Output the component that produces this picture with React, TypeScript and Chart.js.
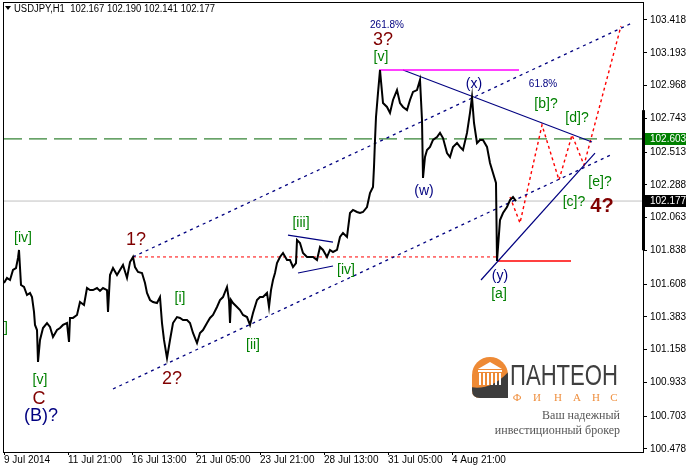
import React, { useEffect, useRef } from "react";
import { Chart, registerables } from "chart.js";

Chart.register(...registerables);

// ---------- data ----------
const headerText = "USDJPY,H1  102.167 102.190 102.141 102.177";

const barIndex = [
  0, 3, 6, 9, 12, 14, 15, 17, 20, 23, 26, 28, 30, 31, 33, 34, 36, 39, 43, 46, 49, 53, 56, 59, 63, 65, 66, 69, 73, 76,
  80, 83, 86, 89, 93, 96, 99, 103, 104, 106, 109, 113, 116, 119, 123, 126, 129, 131, 134, 138, 141, 143, 146, 149,
  153, 156, 158, 160, 163, 166, 169, 173, 176, 179, 183, 186, 189, 193, 196, 199, 203, 206, 209, 213, 216, 219, 223,
  225, 226, 227, 229, 233, 236, 239, 243, 246, 249, 253, 256, 259, 263, 265, 267, 269, 271, 273, 276, 279, 283, 286,
  289, 292, 293, 296, 299, 303, 306, 309, 313, 316, 319, 323, 326, 329, 333, 336, 339, 343, 346, 349, 353, 356, 359,
  363, 366, 369, 370, 371, 372, 374, 376, 379, 383, 386, 389, 393, 396, 399, 403, 406, 409, 413, 416, 418, 419, 421,
  423, 426, 429, 433, 436, 439, 443, 446, 449, 453, 456, 459, 463, 466, 468, 470, 473, 476, 479, 483, 486, 489, 492,
  493, 496, 499, 503, 506, 509, 512,
];

const closePrice = [
  101.615, 101.65, 101.636, 101.705, 101.718, 101.787, 101.842, 101.602, 101.588, 101.533, 101.547, 101.519, 101.417,
  101.328, 101.293, 101.074, 101.225, 101.307, 101.341, 101.314, 101.245, 101.293, 101.307, 101.328, 101.341, 101.211,
  101.376, 101.376, 101.396, 101.485, 101.465, 101.581, 101.567, 101.567, 101.581, 101.561, 101.581, 101.567, 101.417,
  101.67, 101.718, 101.67, 101.705, 101.739, 101.65, 101.759, 101.794, 101.725, 101.691, 101.684, 101.615, 101.547,
  101.499, 101.485, 101.478, 101.519, 101.341, 101.225, 101.101, 101.225, 101.341, 101.382, 101.376, 101.362, 101.362,
  101.341, 101.273, 101.204, 101.273, 101.293, 101.341, 101.376, 101.396, 101.451, 101.499, 101.519, 101.588, 101.499,
  101.341, 101.499, 101.478, 101.451, 101.43, 101.396, 101.382, 101.328, 101.41, 101.499, 101.519, 101.519, 101.547,
  101.451, 101.567, 101.636, 101.684, 101.752, 101.794, 101.821, 101.773, 101.773, 101.725, 101.752, 101.91, 101.89,
  101.821, 101.794, 101.794, 101.794, 101.773, 101.862, 101.842, 101.794, 101.842, 101.828, 101.842, 101.931, 101.958,
  101.931, 102.095, 102.116, 102.102, 102.095, 102.102, 102.136, 102.232, 102.273, 102.411, 102.596, 102.753, 102.918,
  103.075, 102.849, 102.822, 102.781, 102.87, 102.938, 102.849, 102.822, 102.801, 102.87, 102.925, 102.938, 103.007,
  102.733, 102.335, 102.479, 102.527, 102.548, 102.596, 102.616, 102.644, 102.609, 102.506, 102.479, 102.548, 102.575,
  102.548, 102.527, 102.644, 102.781, 102.89, 102.712, 102.575, 102.596, 102.596, 102.548, 102.438, 102.369, 102.301,
  101.766, 102.047, 102.095, 102.136, 102.184, 102.205, 102.177,
];

const xTickBars = [0, 64, 128, 192, 256, 320, 384, 448];
const xTickLabels = [
  "9 Jul 2014",
  "11 Jul 21:00",
  "16 Jul 13:00",
  "21 Jul 05:00",
  "23 Jul 21:00",
  "28 Jul 13:00",
  "31 Jul 05:00",
  "4 Aug 21:00",
];
const yTickValues = [
  103.418, 103.193, 102.968, 102.743, 102.513, 102.288, 102.063, 101.838, 101.608, 101.383, 101.158, 100.933, 100.703,
  100.478,
];
const xMin = 0;
const xMax = 639;
const yMin = 100.4571;
const yMax = 103.5345;

const greenLevel = 102.603;
const lastPrice = 102.177;
const scaleBarHigh = 102.8;
const scaleBarLow = 101.84;

// trend lines (bar index, price)
const upperChannelBars = [129, 628];
const upperChannelPrices = [101.794, 103.397];
const lowerChannelBars = [109, 609];
const lowerChannelPrices = [100.889, 102.5];
const topLevelBars = [375, 515];
const topLevelPrices = [103.075, 103.075];
const fallingLineBars = [399, 588];
const fallingLinePrices = [103.075, 102.582];
const risingLineBars = [477, 591];
const risingLinePrices = [101.636, 102.506];
const triUpperBars = [284, 329];
const triUpperPrices = [101.944, 101.896];
const triLowerBars = [294, 329];
const triLowerPrices = [101.684, 101.732];
const wave1LevelBars = [129, 493];
const wave1LevelPrices = [101.794, 101.794];
const lowLevelBars = [493, 567];
const lowLevelPrices = [101.766, 101.766];
const projectionBars = [506, 516, 538, 555, 568, 580, 617];
const projectionPrices = [102.205, 102.027, 102.698, 102.321, 102.63, 102.424, 103.377];

// wave labels
const labelTexts = [
  "261.8%", "3?", "[v]", "(x)", "61.8%", "[b]?", "[d]?", "[e]?", "[c]?", "4?", "(w)", "(y)", "[a]", "[iii]", "[iv]",
  "1?", "[i]", "[ii]", "2?", "[iv]", "[v]", "C", "(B)?", "]",
];
const labelBars = [383, 379, 377, 470, 539, 542, 573, 596, 570, 598, 420, 496, 495, 297, 342, 132, 176, 249, 168, 19, 36, 35, 37, 0];
const labelPrices = [
  103.384, 103.281, 103.164, 102.979, 102.979, 102.842, 102.746, 102.308, 102.171, 102.143, 102.246, 101.663, 101.54,
  102.027, 101.705, 101.91, 101.513, 101.19, 100.957, 101.924, 100.951, 100.82, 100.704, 101.307,
];
const labelKinds = [
  "pct", "maroon", "green", "navy", "pct", "green", "green", "green", "green", "maroonBold", "navy", "navy", "green",
  "green", "green", "maroon", "green", "green", "maroon", "green", "green", "maroon", "navyBig", "greenLeft",
];

// ---------- styles ----------
const AXIS_FONT = '"Liberation Sans", Arial, sans-serif';
const kindStyle: Record<string, { font: string; color: string; align?: CanvasTextAlign }> = {
  pct: { font: `10px ${AXIS_FONT}`, color: "#000080" },
  maroon: { font: `18px ${AXIS_FONT}`, color: "#800000" },
  maroonBold: { font: `bold 20px ${AXIS_FONT}`, color: "#800000" },
  green: { font: `14px ${AXIS_FONT}`, color: "#008000" },
  greenLeft: { font: `14px ${AXIS_FONT}`, color: "#008000", align: "left" },
  navy: { font: `14px ${AXIS_FONT}`, color: "#000080" },
  navyBig: { font: `18px ${AXIS_FONT}`, color: "#000080" },
};

function seg(bars: number[], prices: number[], style: any) {
  return {
    data: bars.map((b, i) => ({ x: b, y: prices[i] })),
    pointRadius: 0,
    fill: false,
    tension: 0,
    ...style,
  };
}

function drawLogo(ctx: CanvasRenderingContext2D) {
  ctx.save();
  const x0 = 472, y0 = 357, w = 36, h = 41;
  ctx.beginPath();
  ctx.moveTo(x0, y0 + 18);
  ctx.arc(x0 + 18, y0 + 18, 18, Math.PI, 0);
  ctx.lineTo(x0 + w, y0 + h);
  ctx.lineTo(x0 + 8, y0 + h);
  ctx.quadraticCurveTo(x0, y0 + h, x0, y0 + h - 8);
  ctx.closePath();
  ctx.fillStyle = "#ee8a35";
  ctx.fill();
  ctx.clip();
  ctx.beginPath();
  ctx.moveTo(x0 - 2, y0 + 30);
  ctx.quadraticCurveTo(x0 + 20, y0 + 34, x0 + w + 2, y0 + 13);
  ctx.lineTo(x0 + w + 2, y0 + h + 2);
  ctx.lineTo(x0 - 2, y0 + h + 2);
  ctx.closePath();
  ctx.fillStyle = "#3d3d3d";
  ctx.fill();
  ctx.fillStyle = "#ffffff";
  ctx.beginPath();
  ctx.moveTo(x0 + 6, y0 + 12);
  ctx.lineTo(x0 + 18, y0 + 5);
  ctx.lineTo(x0 + 30, y0 + 12);
  ctx.closePath();
  ctx.fill();
  ctx.fillRect(x0 + 6, y0 + 13, 24, 2);
  for (let i = 0; i < 6; i++) ctx.fillRect(x0 + 7 + i * 4, y0 + 16, 2, 12);
  ctx.restore();

  ctx.save();
  ctx.fillStyle = "#3f3f3f";
  ctx.font = `30px ${AXIS_FONT}`;
  ctx.textAlign = "left";
  ctx.textBaseline = "alphabetic";
  ctx.fillText("ПАНТЕОН", 510, 385, 108);
  ctx.fillStyle = "#ef8f3e";
  ctx.font = '11px "Liberation Serif", serif';
  ctx.textAlign = "center";
  const letters = ["Ф", "И", "Н", "А", "Н", "С"];
  const cx = [517, 537, 558, 577, 596, 614];
  letters.forEach((l, i) => ctx.fillText(l, cx[i], 401));
  ctx.fillStyle = "#555555";
  ctx.font = '12px "Liberation Serif", serif';
  ctx.textAlign = "right";
  ctx.fillText("Ваш надежный", 620, 419);
  ctx.fillText("инвестиционный брокер", 620, 434);
  ctx.restore();
}

const overlayPlugin = {
  id: "overlay",
  beforeDatasetsDraw(chart: any) {
    drawLogo(chart.ctx);
  },
  afterDatasetsDraw(chart: any) {
    const ctx: CanvasRenderingContext2D = chart.ctx;
    const xs = chart.scales.x;
    const ys = chart.scales.y;
    ctx.save();
    labelTexts.forEach((t, i) => {
      const st = kindStyle[labelKinds[i]];
      ctx.font = st.font;
      ctx.fillStyle = st.color;
      ctx.textAlign = st.align || "center";
      ctx.textBaseline = "middle";
      ctx.fillText(t, xs.getPixelForValue(labelBars[i]), ys.getPixelForValue(labelPrices[i]));
    });
    ctx.restore();
  },
  afterDraw(chart: any) {
    const ctx: CanvasRenderingContext2D = chart.ctx;
    const a = chart.chartArea;
    const ys = chart.scales.y;
    ctx.save();
    // frame
    ctx.strokeStyle = "#000";
    ctx.lineWidth = 1;
    ctx.strokeRect(a.left - 0.5, a.top - 0.5, a.right - a.left + 1, a.bottom - a.top + 1);
    // scale bar
    const yb1 = ys.getPixelForValue(scaleBarHigh);
    const yb2 = ys.getPixelForValue(scaleBarLow);
    ctx.fillStyle = "#000";
    ctx.fillRect(a.right - 1, yb1, 3, yb2 - yb1);
    // price tags
    const tag = (v: number, bg: string) => {
      const y = Math.round(ys.getPixelForValue(v));
      ctx.fillStyle = bg;
      ctx.fillRect(a.right + 2, y - 6, 686 - a.right - 2, 12);
      ctx.fillStyle = "#fff";
      ctx.font = `10px ${AXIS_FONT}`;
      ctx.textAlign = "left";
      ctx.textBaseline = "middle";
      ctx.fillText(v.toFixed(3), a.right + 7, y + 0.5);
    };
    tag(greenLevel, "#008000");
    tag(lastPrice, "#000000");
    // header
    ctx.fillStyle = "#000";
    ctx.beginPath();
    ctx.moveTo(5, 6);
    ctx.lineTo(11, 6);
    ctx.lineTo(8, 10);
    ctx.closePath();
    ctx.fill();
    ctx.font = `10px ${AXIS_FONT}`;
    ctx.textAlign = "left";
    ctx.textBaseline = "alphabetic";
    ctx.fillText(headerText, 14, 12, 201);
    ctx.restore();
  },
};

export default function App() {
  const ref = useRef<HTMLCanvasElement>(null);
  useEffect(() => {
    const canvas = ref.current;
    if (!canvas) return;
    const NAVY = "#000080";
    const datasets: any[] = [
      seg(barIndex, closePrice, { borderColor: "#000", borderWidth: 2 }),
      seg(topLevelBars, topLevelPrices, { borderColor: "#ff00ff", borderWidth: 1.5 }),
      seg(fallingLineBars, fallingLinePrices, { borderColor: NAVY, borderWidth: 1.2 }),
      seg(risingLineBars, risingLinePrices, { borderColor: NAVY, borderWidth: 1.2 }),
      seg(triUpperBars, triUpperPrices, { borderColor: NAVY, borderWidth: 1.2 }),
      seg(triLowerBars, triLowerPrices, { borderColor: NAVY, borderWidth: 1.2 }),
      seg(upperChannelBars, upperChannelPrices, { borderColor: NAVY, borderWidth: 1.3, borderDash: [3, 4] }),
      seg(lowerChannelBars, lowerChannelPrices, { borderColor: NAVY, borderWidth: 1.3, borderDash: [3, 4] }),
      seg(projectionBars, projectionPrices, { borderColor: "#ff0000", borderWidth: 1.4, borderDash: [3, 3] }),
      seg(lowLevelBars, lowLevelPrices, { borderColor: "#ff0000", borderWidth: 1.5 }),
      seg(wave1LevelBars, wave1LevelPrices, { borderColor: "#ff0000", borderWidth: 1, borderDash: [3, 3] }),
      seg([xMin, xMax], [greenLevel, greenLevel], { borderColor: "#006400", borderWidth: 1, borderDash: [18, 7] }),
      seg([xMin, xMax], [lastPrice, lastPrice], { borderColor: "#c0c0c0", borderWidth: 1 }),
    ];
    const chart = new Chart(canvas, {
      type: "line",
      data: { datasets },
      plugins: [overlayPlugin as any],
      options: {
        responsive: false,
        animation: false,
        devicePixelRatio: 1,
        events: [],
        layout: { padding: { left: 4, top: 3, right: 0, bottom: 0 } },
        plugins: { legend: { display: false }, tooltip: { enabled: false } },
        scales: {
          x: {
            type: "linear",
            position: "bottom",
            min: xMin,
            max: xMax,
            border: { display: false },
            grid: { drawOnChartArea: false, drawTicks: true, tickLength: 3, color: "#000" },
            afterBuildTicks: (s: any) => {
              s.ticks = xTickBars.map((v) => ({ value: v }));
            },
            afterFit: (s: any) => {
              s.height = 18;
              s.paddingLeft = 0;
              s.paddingRight = 0;
            },
            ticks: {
              autoSkip: false,
              maxRotation: 0,
              align: "start",
              padding: 0,
              color: "#000",
              font: { family: AXIS_FONT, size: 10, lineHeight: 1 },
              callback: (v: any) => {
                const i = xTickBars.indexOf(Number(v));
                return i >= 0 ? xTickLabels[i] : "";
              },
            },
          },
          y: {
            type: "linear",
            position: "right",
            min: yMin,
            max: yMax,
            border: { display: false },
            grid: { drawOnChartArea: false, drawTicks: true, tickLength: 4, color: "#000" },
            afterBuildTicks: (s: any) => {
              s.ticks = yTickValues.map((v) => ({ value: v }));
            },
            afterFit: (s: any) => {
              s.width = 43;
              s.paddingTop = 0;
              s.paddingBottom = 0;
            },
            ticks: {
              autoSkip: false,
              padding: 3,
              color: "#000",
              font: { family: AXIS_FONT, size: 10 },
              callback: (v: any) => Number(v).toFixed(3),
            },
          },
        },
      } as any,
    });
    return () => chart.destroy();
  }, []);
  return (
    <div style={{ position: "fixed", left: 0, top: 0, width: 686, height: 470, background: "#fff" }}>
      <canvas ref={ref} width={686} height={470} style={{ display: "block", width: 686, height: 470 }} />
    </div>
  );
}
